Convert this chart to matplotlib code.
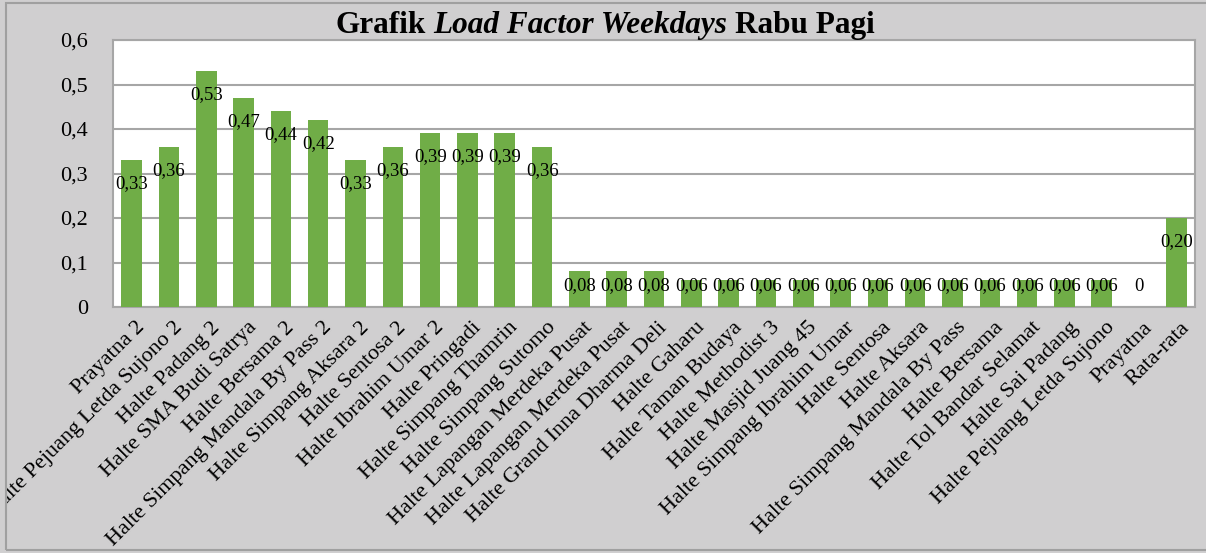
import matplotlib.pyplot as plt
from matplotlib.patches import Rectangle
from matplotlib.transforms import ScaledTranslation
import numpy as np

plt.rcParams['font.family'] = ['Liberation Serif', 'DejaVu Serif']

# data
halte = [
    'Prayatna 2', 'Halte Pejuang Letda Sujono 2', 'Halte Padang 2',
    'Halte SMA Budi Satrya', 'Halte Bersama 2', 'Halte Simpang Mandala By Pass 2',
    'Halte Simpang Aksara 2', 'Halte Sentosa 2', 'Halte Ibrahim Umar 2',
    'Halte Pringadi', 'Halte Simpang Thamrin', 'Halte Simpang Sutomo',
    'Halte Lapangan Merdeka Pusat', 'Halte Lapangan Merdeka Pusat',
    'Halte Grand Inna Dharma Deli', 'Halte Gaharu', 'Halte Taman Budaya',
    'Halte Methodist 3', 'Halte Masjid Juang 45', 'Halte Simpang Ibrahim Umar',
    'Halte Sentosa', 'Halte Aksara', 'Halte Simpang Mandala By Pass',
    'Halte Bersama', 'Halte Tol Bandar Selamat', 'Halte Sai Padang',
    'Halte Pejuang Letda Sujono', 'Prayatna', 'Rata-rata',
]
load_factor = [
    0.33, 0.36, 0.53, 0.47, 0.44, 0.42, 0.33, 0.36, 0.39, 0.39, 0.39, 0.36,
    0.08, 0.08, 0.08,
    0.06, 0.06, 0.06, 0.06, 0.06, 0.06, 0.06, 0.06, 0.06, 0.06, 0.06, 0.06,
    0, 0.20,
]
y_ticks = [0, 0.1, 0.2, 0.3, 0.4, 0.5, 0.6]
y_tick_labels = ['0', '0,1', '0,2', '0,3', '0,4', '0,5', '0,6']

W, H = 1206, 553
fig = plt.figure(figsize=(W / 100, H / 100), dpi=100, facecolor='#d0cfd0')

# outer chart frame
frame = Rectangle((6 / W, 3 / H), 1.0, 547 / H, transform=fig.transFigure,
                  fill=False, edgecolor='#a0a0a0', lw=1.5)
fig.patches.append(frame)

ax = fig.add_axes([113 / W, 1 - 307 / H, (1195 - 113) / W, (307 - 40) / H])
ax.set_facecolor('white')
x = np.arange(len(halte))
ax.bar(x, load_factor, width=0.55, color='#70ad47', zorder=3)

ax.set_xlim(-0.5, len(halte) - 0.5)
ax.set_ylim(0, 0.6)
ax.set_yticks(y_ticks)
ax.set_yticklabels(y_tick_labels, fontsize=16)
ax.set_xticks(x)
ax.set_xticklabels(halte, rotation=45, ha='right', va='top',
                   rotation_mode='anchor', fontsize=16)
ax.tick_params(axis='both', length=0)
ax.tick_params(axis='y', pad=18)
ax.tick_params(axis='x', pad=8)
ax.grid(axis='y', color='#a6a6a6', lw=1.5, zorder=0)
for s in ax.spines.values():
    s.set_color('#a6a6a6')
    s.set_linewidth(1.5)

# shift tick labels a bit right and clip them to the chart frame
shift = ScaledTranslation(4 / 100, 0, fig.dpi_scale_trans)
for lab in ax.get_xticklabels():
    lab.set_transform(lab.get_transform() + shift)
    lab.set_clip_on(True)
    lab.set_clip_path(frame)

# data labels, inside the bar end
for xi, v in zip(x, load_factor):
    txt = '0' if v == 0 else f'{v:.2f}'.replace('.', ',')
    ax.text(xi, max(v - 0.053, 0.047), txt, ha='center', va='center',
            fontsize=13.5, zorder=4)

# title with italic middle part
pieces = [('Grafik', 'normal'), ('Load Factor Weekdays', 'italic'), ('Rabu Pagi', 'normal')]
r = fig.canvas.get_renderer()
sp = fig.text(0, 0, 'a a', fontsize=22.5, weight='bold')
sp2 = fig.text(0, 0, 'aa', fontsize=22.5, weight='bold')
space = (sp.get_window_extent(r).width - sp2.get_window_extent(r).width) / W
sp.remove()
sp2.remove()
texts = [fig.text(0, 1 - 33 / H, s, fontsize=22.5, weight='bold', style=st,
                  va='baseline') for s, st in pieces]
widths = [t.get_window_extent(r).width / W for t in texts]
total = sum(widths) + space * (len(texts) - 1)
xpos = 605 / W - total / 2
for t, w in zip(texts, widths):
    t.set_x(xpos)
    xpos += w + space

fig.savefig('out.png', dpi=100, facecolor=fig.get_facecolor())
